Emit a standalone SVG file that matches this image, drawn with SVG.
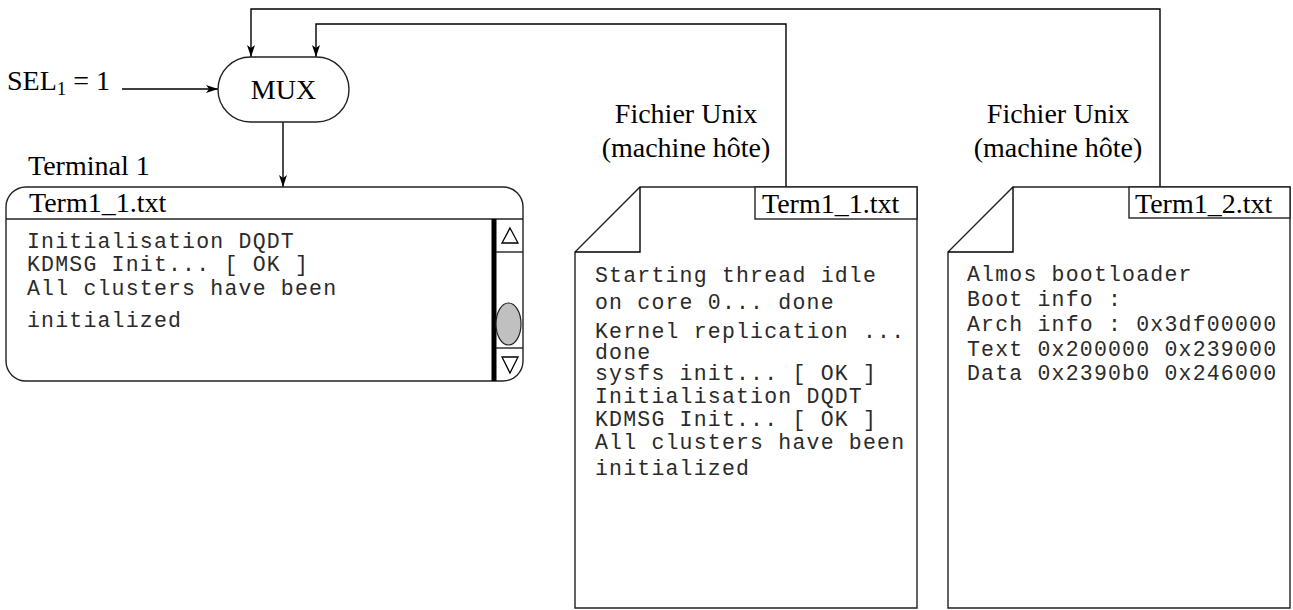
<svg xmlns="http://www.w3.org/2000/svg" width="1293" height="610" viewBox="0 0 1293 610">
<style>
.serif{font-family:"Liberation Serif","Times New Roman",serif;font-size:28px;fill:#000}
.mono{font-family:"Liberation Mono","Courier New",monospace;font-size:21.5px;letter-spacing:1.2px;fill:#2a2a2a}
.edge{fill:none;stroke:#000;stroke-width:1.4}
.shape{fill:#fff;stroke:#222;stroke-width:1.4}
</style>
<defs>
<marker id="arr" viewBox="0 0 12 8" refX="12" refY="4" markerWidth="12" markerHeight="8" markerUnits="userSpaceOnUse" orient="auto">
<path d="M0,0 L12,4 L0,8 L3,4 z" fill="#000"/>
</marker>
</defs>
<rect width="1293" height="610" fill="#fff"/>

<g id="connectors">
<path class="edge" d="M122,89 H218" marker-end="url(#arr)"/>
<path class="edge" d="M283,122 V187" marker-end="url(#arr)"/>
<path class="edge" d="M1160,187 V9 H251 V57" marker-end="url(#arr)"/>
<path class="edge" d="M786,187 V24 H316 V57" marker-end="url(#arr)"/>
</g>

<g id="sel">
<text class="serif" x="7" y="90">SEL<tspan font-size="19" dy="5">1</tspan><tspan dy="-5"> = 1</tspan></text>
</g>

<g id="mux">
<rect class="shape" x="218" y="57" width="131" height="65" rx="32.5" ry="32.5"/>
<text class="serif" x="283.5" y="99" text-anchor="middle">MUX</text>
</g>

<g id="terminal">
<text class="serif" x="28" y="175">Terminal 1</text>
<rect class="shape" x="6" y="187" width="517" height="194" rx="20" ry="20"/>
<line x1="6" y1="219" x2="523" y2="219" stroke="#222" stroke-width="1.4"/>
<text class="serif" x="29" y="212">Term1_1.txt</text>
<line x1="494" y1="219" x2="494" y2="381" stroke="#000" stroke-width="5"/>
<line x1="496" y1="252" x2="523" y2="252" stroke="#222" stroke-width="1.4"/>
<line x1="496" y1="348" x2="523" y2="348" stroke="#222" stroke-width="1.4"/>
<path d="M510,228 L518,243 L502,243 Z" fill="#fff" stroke="#000" stroke-width="1.3"/>
<path d="M502,357 L518,357 L510,373 Z" fill="#fff" stroke="#000" stroke-width="1.3"/>
<ellipse cx="508.5" cy="324" rx="12.5" ry="21" fill="#c0c0c0" stroke="#222" stroke-width="1.2"/>
<text class="mono" x="27" y="248">Initialisation DQDT</text>
<text class="mono" x="27" y="271">KDMSG Init... [ OK ]</text>
<text class="mono" x="27" y="295">All clusters have been</text>
<text class="mono" x="27" y="327">initialized</text>
</g>

<g id="file1">
<text class="serif" x="686" y="123" text-anchor="middle">Fichier Unix</text>
<text class="serif" x="686" y="157" text-anchor="middle">(machine hôte)</text>
<path class="shape" d="M640,187 H917 V608 H575 V252 Z"/>
<path class="edge" d="M575,252 H640 V187" stroke="#222"/>
<rect x="755" y="187" width="162" height="32" fill="#fff" stroke="#222" stroke-width="1.4"/>
<text class="serif" x="762" y="213">Term1_1.txt</text>
<text class="mono" x="595" y="282">Starting thread idle</text>
<text class="mono" x="595" y="309">on core 0... done</text>
<text class="mono" x="595" y="338">Kernel replication ...</text>
<text class="mono" x="595" y="359">done</text>
<text class="mono" x="595" y="380">sysfs init... [ OK ]</text>
<text class="mono" x="595" y="403">Initialisation DQDT</text>
<text class="mono" x="595" y="426">KDMSG Init... [ OK ]</text>
<text class="mono" x="595" y="449">All clusters have been</text>
<text class="mono" x="595" y="475">initialized</text>
</g>

<g id="file2">
<text class="serif" x="1058" y="123" text-anchor="middle">Fichier Unix</text>
<text class="serif" x="1058" y="157" text-anchor="middle">(machine hôte)</text>
<path class="shape" d="M1013,187 H1290 V608 H948 V252 Z"/>
<path class="edge" d="M948,252 H1013 V187" stroke="#222"/>
<rect x="1129" y="187" width="161" height="31" fill="#fff" stroke="#222" stroke-width="1.4"/>
<text class="serif" x="1135" y="213">Term1_2.txt</text>
<text class="mono" x="967" y="281">Almos bootloader</text>
<text class="mono" x="967" y="306">Boot info :</text>
<text class="mono" x="967" y="331">Arch info : 0x3df00000</text>
<text class="mono" x="967" y="356">Text 0x200000 0x239000</text>
<text class="mono" x="967" y="380">Data 0x2390b0 0x246000</text>
</g>
</svg>
